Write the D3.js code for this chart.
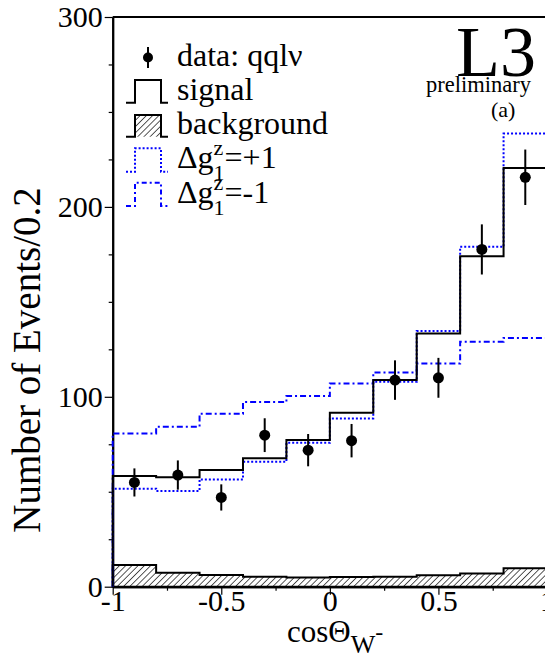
<!DOCTYPE html>
<html>
<head>
<meta charset="utf-8">
<script src="https://cdn.jsdelivr.net/npm/d3@7"></script>
</head>
<body style="margin:0">
<svg id="chart" width="545" height="656"></svg>
<script>
// bin edges of cos(theta_W-) histogram, 0.2 wide
const BIN_EDGES = [-1, -0.8, -0.6, -0.4, -0.2, 0, 0.2, 0.4, 0.6, 0.8, 1];
const SIGNAL = [58.3, 57.7, 61.4, 67.7, 77.2, 91.6, 108.8, 133.3, 174, 220.5];
const BACKGROUND = [11.4, 7.4, 6.2, 5.3, 4.9, 5.1, 5.3, 6.0, 7.0, 9.7];
const G1Z_PLUS = [51.6, 50.4, 56.5, 65.8, 75.8, 88.6, 107.9, 134.6, 179, 238.6];
const G1Z_MINUS = [80.7, 84.2, 91.1, 97.2, 100.4, 107, 112.8, 117.6, 129, 131];
const DATA_X = [-0.9, -0.7, -0.5, -0.3, -0.1, 0.1, 0.3, 0.5, 0.7, 0.9];
const DATA_Y = [54.9, 58.8, 47, 79.8, 71.9, 76.9, 108.8, 110, 177.6, 215.6];
const DATA_ERR = [7.4, 7.7, 6.9, 8.9, 8.5, 8.8, 10.4, 10.5, 13.2, 14.6];
const X_TICKS = [-1, -0.5, 0, 0.5, 1];
const X_MINOR = [-0.75, -0.25, 0.25, 0.75];
const Y_TICKS = [0, 100, 200, 300];
const Y_MINOR = [25, 50, 75, 125, 150, 175, 225, 250, 275];

const svg = d3.select("#chart");
const x = d3.scaleLinear().domain([-1, 1]).range([112.7, 547]);
const y = d3.scaleLinear().domain([0, 300]).range([586.7, 17]);
const BLUE = "#0000ff";
const SERIF = '"Liberation Serif"';

// hatch pattern for background
const defs = svg.append("defs");
defs.append("pattern")
    .attr("id", "hatch")
    .attr("patternUnits", "userSpaceOnUse")
    .attr("width", 4.4).attr("height", 4.4)
    .attr("patternTransform", "rotate(45)")
  .append("line")
    .attr("x1", 0).attr("y1", 0).attr("x2", 0).attr("y2", 4.4)
    .attr("stroke", "#000").attr("stroke-width", 1.3);

// axes
const fmt = d => String(d);
svg.append("g")
    .attr("transform", `translate(0,${y(0)})`)
    .call(d3.axisBottom(x).tickValues(X_TICKS).tickSize(8).tickSizeOuter(0).tickPadding(-5).tickFormat(fmt));
svg.append("g")
    .attr("transform", `translate(0,${y(0)})`)
    .call(d3.axisBottom(x).tickValues(X_MINOR).tickSize(4).tickSizeOuter(0).tickFormat(""));
svg.append("g")
    .attr("transform", `translate(${x(-1)},0)`)
    .call(d3.axisLeft(y).tickValues(Y_TICKS).tickSize(8).tickSizeOuter(0).tickPadding(2).tickFormat(fmt));
svg.append("g")
    .attr("transform", `translate(${x(-1)},0)`)
    .call(d3.axisLeft(y).tickValues(Y_MINOR).tickSize(4).tickSizeOuter(0).tickFormat(""));

svg.selectAll(".domain").attr("stroke-width", 2);
svg.selectAll(".tick line").attr("stroke-width", 1.2);
svg.selectAll(".tick text").attr("font-size", 30).style("font-family", SERIF);

// top frame
svg.append("line")
    .attr("x1", x(-1)).attr("x2", x(1))
    .attr("y1", y(300)).attr("y2", y(300))
    .attr("stroke", "#000").attr("stroke-width", 2);

// histogram outline helper
function stepPoints(vals) {
  const pts = [[BIN_EDGES[0], 0]];
  vals.forEach((v, i) => {
    pts.push([BIN_EDGES[i], v]);
    pts.push([BIN_EDGES[i + 1], v]);
  });
  pts.push([BIN_EDGES[BIN_EDGES.length - 1], 0]);
  return pts;
}
const line = d3.line().x(d => x(d[0])).y(d => y(d[1]));

svg.append("path")
    .attr("d", line(stepPoints(BACKGROUND)) + "Z")
    .attr("fill", "url(#hatch)")
    .attr("stroke", "#000").attr("stroke-width", 2);

svg.append("path")
    .attr("d", line(stepPoints(G1Z_MINUS)))
    .attr("fill", "none").attr("stroke", BLUE).attr("stroke-width", 2)
    .attr("stroke-dasharray", "6,3,2,3");

svg.append("path")
    .attr("d", line(stepPoints(G1Z_PLUS)))
    .attr("fill", "none").attr("stroke", BLUE).attr("stroke-width", 2)
    .attr("stroke-dasharray", "2,2");

svg.append("path")
    .attr("d", line(stepPoints(SIGNAL)))
    .attr("fill", "none").attr("stroke", "#000").attr("stroke-width", 2);

// data points with errors
const pts = svg.append("g");
DATA_X.forEach((dx, i) => {
  pts.append("line")
      .attr("x1", x(dx)).attr("x2", x(dx))
      .attr("y1", y(DATA_Y[i] - DATA_ERR[i])).attr("y2", y(DATA_Y[i] + DATA_ERR[i]))
      .attr("stroke", "#000").attr("stroke-width", 2);
  pts.append("circle")
      .attr("cx", x(dx)).attr("cy", y(DATA_Y[i]))
      .attr("r", 5.5).attr("fill", "#000");
});

// legend
const leg = svg.append("g");
const LEG_X = 177, LEG_FS = 32;
const txt = (g, tx, ty, fs, s) => g.append("text").attr("x", tx).attr("y", ty)
    .attr("font-size", fs).style("font-family", SERIF).text(s);

leg.append("line").attr("x1", 148).attr("x2", 148).attr("y1", 47).attr("y2", 68)
    .attr("stroke", "#000").attr("stroke-width", 2);
leg.append("circle").attr("cx", 148).attr("cy", 57.5).attr("r", 5).attr("fill", "#000");
txt(leg, LEG_X, 66, LEG_FS, "data: qqlν");

const symb = (yLow, yHigh) => `M126,${yLow}H135V${yHigh}H161V${yLow}H168`;
leg.append("path").attr("d", symb(102.7, 80)).attr("fill", "none")
    .attr("stroke", "#000").attr("stroke-width", 2);
txt(leg, LEG_X, 100, LEG_FS, "signal");

leg.append("rect").attr("x", 135).attr("y", 115).attr("width", 26).attr("height", 21.7)
    .attr("fill", "url(#hatch)");
leg.append("path").attr("d", symb(136.7, 115)).attr("fill", "none")
    .attr("stroke", "#000").attr("stroke-width", 2);
txt(leg, LEG_X, 134, LEG_FS, "background");

leg.append("path").attr("d", symb(171.7, 148.3)).attr("fill", "none")
    .attr("stroke", BLUE).attr("stroke-width", 2).attr("stroke-dasharray", "2,2");
leg.append("path").attr("d", symb(206, 182.7)).attr("fill", "none")
    .attr("stroke", BLUE).attr("stroke-width", 2).attr("stroke-dasharray", "5,3,2,3");

// Δg1^z labels, super/subscript stacked with tspans
function coupling(baseY, sign) {
  const t = leg.append("text").attr("x", LEG_X).attr("y", baseY)
      .attr("font-size", LEG_FS).style("font-family", SERIF);
  t.append("tspan").text("Δg");
  t.append("tspan").attr("font-size", 22).attr("dy", -13).text("z");
  t.append("tspan").attr("font-size", 22).attr("dx", -9.8).attr("dy", 25).text("1");
  t.append("tspan").attr("dy", -12).text("=" + sign + "1");
}
coupling(168, "+");
coupling(203, "-");

// experiment label
const lab = svg.append("g");
txt(lab, 456, 76, 72, "L3");
txt(lab, 426, 92, 22.5, "preliminary");
txt(lab, 491, 117, 22, "(a)");

// axis titles
const tit = svg.append("g");
txt(tit, 0, 0, 39, "Number of Events/0.2")
    .attr("transform", "translate(40,360) rotate(-90)")
    .attr("text-anchor", "middle");

const xt = tit.append("text").attr("x", 287).attr("y", 642)
    .attr("font-size", 31).style("font-family", SERIF);
xt.append("tspan").text("cosΘ");
xt.append("tspan").attr("font-size", 26).attr("dy", 11).text("W");
xt.append("tspan").attr("font-size", 24).attr("dy", -13).text("-");
</script>
</body>
</html>
